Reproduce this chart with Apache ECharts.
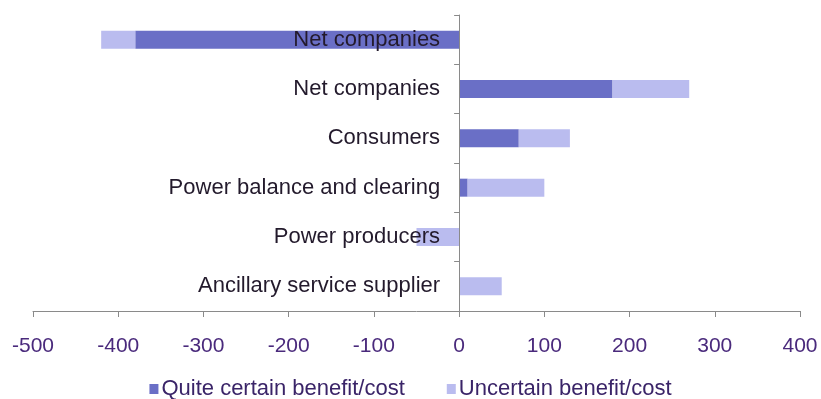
<!DOCTYPE html>
<html>
<head>
<meta charset="utf-8">
<script src="https://cdn.jsdelivr.net/npm/echarts@6/dist/echarts.min.js"></script>
<style>
  html, body { margin: 0; padding: 0; background: #fff; }
  #chart { width: 821px; height: 399px; }
</style>
</head>
<body>
<div id="chart"></div>
<script>
// Stakeholder groups, listed top to bottom
const categories = [
  'Net companies',
  'Net companies',
  'Consumers',
  'Power balance and clearing',
  'Power producers',
  'Ancillary service supplier'
];
// Quite certain part of the benefit/cost
const certainValues = [-380, 180, 70, 10, 0, 0];
// Uncertain part, stacked on top of the certain part
const uncertainValues = [-40, 90, 60, 90, -50, 50];
const xTicks = { min: -500, max: 400, step: 100 };

const W = 821;
const gridBox = { left: 33, right: 21, top: 15, bottom: 88 };
// The category axis sits on the value axis' zero line, labels included
const plotWidth = W - gridBox.left - gridBox.right;
const zeroOffset = plotWidth * (0 - xTicks.min) / (xTicks.max - xTicks.min);

const FONT = 'Liberation Sans, Arial, sans-serif';
const chart = echarts.init(document.getElementById('chart'), null, { renderer: 'canvas' });

chart.setOption({
  animation: false,
  textStyle: { fontFamily: FONT },
  grid: Object.assign({ containLabel: false, outerBoundsMode: 'none' }, gridBox),
  legend: {
    top: 378,
    left: 'center',
    padding: 0,
    itemWidth: 9,
    itemHeight: 10,
    itemGap: 42,
    icon: 'rect',
    textStyle: { fontSize: 22, color: '#3a2468', fontFamily: FONT, padding: [0, 0, 0, -2] },
    data: ['Quite certain benefit/cost', 'Uncertain benefit/cost']
  },
  xAxis: {
    type: 'value',
    min: xTicks.min,
    max: xTicks.max,
    interval: xTicks.step,
    splitLine: { show: false },
    axisLine: { show: true, onZero: false, lineStyle: { color: '#8a8a8a', width: 1 } },
    axisTick: { show: true, length: 6, lineStyle: { color: '#8a8a8a' } },
    axisLabel: { fontSize: 21, color: '#4a2a7c', margin: 25 }
  },
  yAxis: {
    type: 'category',
    inverse: true,
    data: categories,
    offset: -zeroOffset,
    z: 5,
    axisLine: { show: true, onZero: false, lineStyle: { color: '#8a8a8a', width: 1 } },
    axisTick: { show: true, length: 5, lineStyle: { color: '#8a8a8a' } },
    axisLabel: { fontSize: 22, color: '#231a2c', margin: 19, padding: [4, 0, 0, 0] },
    splitLine: { show: false }
  },
  series: [
    {
      name: 'Quite certain benefit/cost',
      type: 'bar',
      stack: 'total',
      barWidth: 18,
      itemStyle: { color: '#6a6fc6' },
      data: certainValues,
      z: 1
    },
    {
      name: 'Uncertain benefit/cost',
      type: 'bar',
      stack: 'total',
      barWidth: 18,
      itemStyle: { color: '#babcef' },
      data: uncertainValues,
      z: 1
    }
  ]
});
</script>
</body>
</html>
